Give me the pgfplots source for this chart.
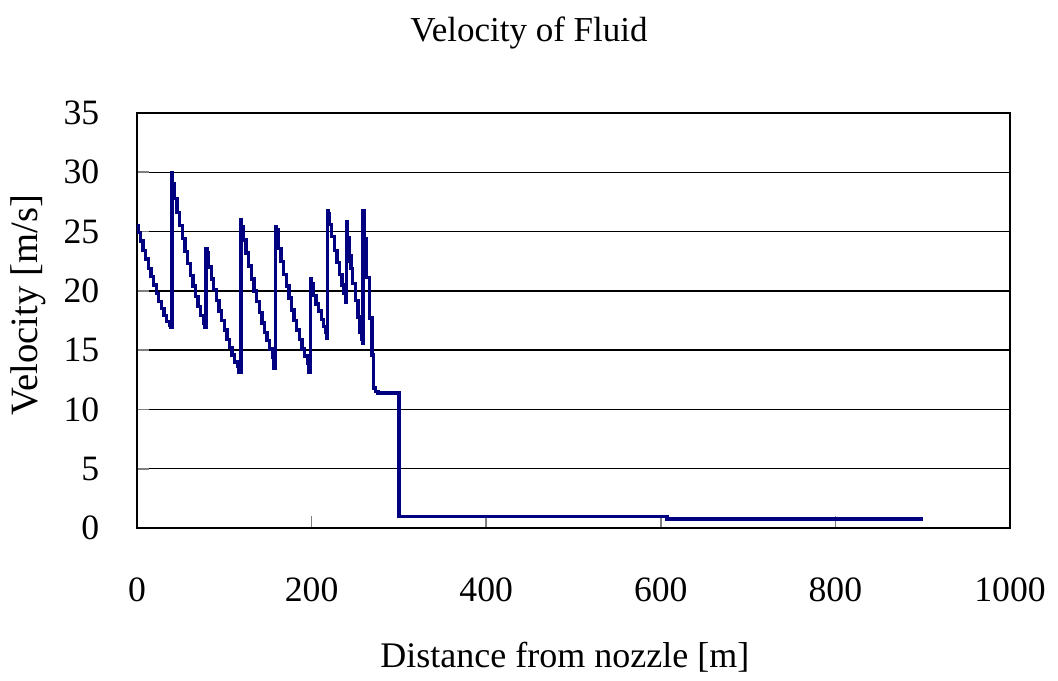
\documentclass[border=0pt]{standalone}
\usepackage{pgfplots}
\pgfplotsset{compat=1.18}
\usepackage{fontspec}
\setmainfont{Liberation Serif}
\definecolor{navy}{RGB}{0,0,128}
\begin{document}
\begin{tikzpicture}
\begin{axis}[
  name=ax,
  scale only axis,
  width=261.9pt, height=124.5pt,
  xmin=0, xmax=1000, ymin=0, ymax=35,
  xtick={0,200,400,600,800,1000},
  ytick={0,5,10,15,20,25,30,35},
  /pgf/number format/assume math mode=true,
  /pgf/number format/1000 sep={},
  axis line style={black, line width=0.8pt},
  tick align=inside,
  xtick pos=bottom, ytick pos=left,
  major tick length=3.6pt,
  tick style={gray, line width=0.5pt},
  ymajorgrids,
  major grid style={black, line width=0.45pt},
  ticklabel style={font=\fontsize{10.7pt}{12pt}\selectfont},
  xticklabel style={anchor=base, inner sep=0pt, yshift=-21.9pt},
  yticklabel style={anchor=east, inner sep=0pt, xshift=-11.1pt},
  every axis title shift=0pt,
  title={Velocity of Fluid},
  title style={at={(axis description cs:0.449,1.1735)}, anchor=base, inner sep=0pt, font=\fontsize{10.5pt}{12pt}\selectfont},
  xlabel={Distance from nozzle [m]},
  xlabel style={at={(axis description cs:0.49,-0.337)}, anchor=base, inner sep=0pt, font=\fontsize{10.8pt}{12pt}\selectfont},
  ylabel={Velocity [m/s]},
  ylabel style={at={(axis description cs:-0.1145,0.537)}, rotate=0, anchor=base, inner sep=0pt, font=\fontsize{11.6pt}{12pt}\selectfont},
]
\addplot[const plot, navy, line width=1pt] coordinates {
(0,25.5) (1,24.9) (4,24.2) (7,23.4) (10,22.7) (13,21.9) (16,21.2) (19,20.5) (22,19.8) (25,19.1) (28,18.5) (31,17.9) (34,17.4) (37,17.1) (38.5,16.9)
(40,30.0) (41,28.3) (42,29.0) (43,27.8) (46,26.6) (49,25.5) (52,24.4) (55,23.3) (58,22.3) (61,21.3) (64,20.4) (67,19.5) (70,18.7) (73,17.9) (76,17.3) (78,16.9)
(79,23.6) (80,22.5) (81,23.2) (82,22.0) (85,21.0) (88,20.1) (91,19.2) (94,18.3) (97,17.5) (100,16.7) (103,15.9) (106,15.2) (109,14.6) (112,14.0) (115,13.6) (117,13.1)
(119,26.0) (120,24.8) (121,25.4) (122,24.3) (125,23.2) (128,22.1) (131,21.0) (134,20.0) (137,19.1) (140,18.2) (143,17.3) (146,16.5) (149,15.8) (152,15.1) (155,14.4) (157,13.5)
(159,25.4) (160,23.8) (161,25.2) (162,23.6) (165,22.5) (168,21.4) (171,20.4) (174,19.4) (177,18.4) (180,17.5) (183,16.7) (186,15.9) (189,15.1) (192,14.5) (195,13.9) (197,13.1)
(199,21.0) (200,19.9) (201,20.6) (202,19.6) (205,18.9) (208,18.3) (211,17.6) (214,17.0) (216,16.5) (217.5,16.0)
(218,26.8) (219,26.5) (220,25.6) (223,24.6) (226,23.4) (229,22.4) (232,21.4) (235,20.5) (237,19.8) (239,19.0)
(240,25.8) (241,22.5) (242,24.5) (243,23.0) (245,21.9) (247,20.6) (250,19.2) (253,17.8) (255,16.5) (257,15.9) (258.5,15.6)
(259,26.8) (260,24.4) (263,21.1) (266,17.7) (269,14.6) (271,11.8) (273,11.5) (276,11.4) (300,0.95) (607,0.75) (900,0.75)
};
\end{axis}
\path (ax.south west) ++(-41.1pt,-45.6pt) (ax.north east) ++(14.4pt,33.9pt);
\end{tikzpicture}
\end{document}
